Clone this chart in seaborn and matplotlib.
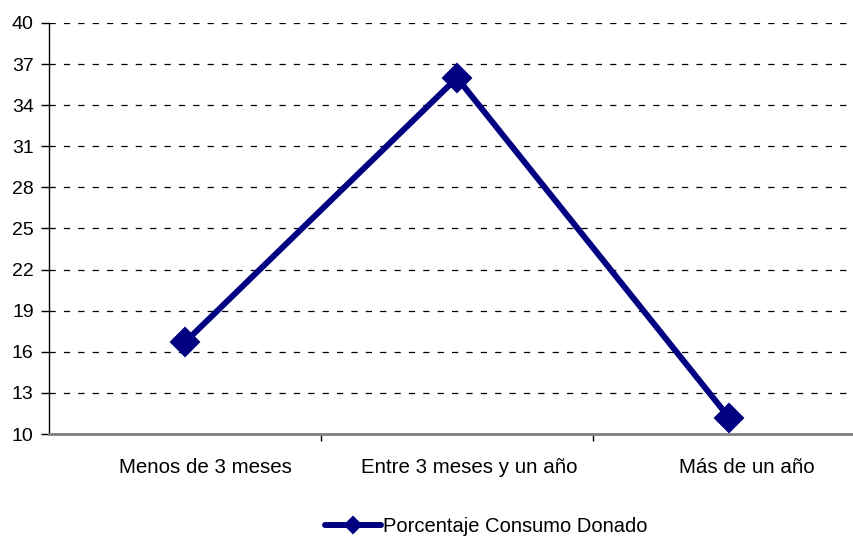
import matplotlib
matplotlib.use("Agg")
import matplotlib.pyplot as plt
import matplotlib.transforms as mtransforms
import seaborn as sns
import pandas as pd
from matplotlib.ticker import FixedLocator

categorias = ["Menos de 3 meses", "Entre 3 meses y un año", "Más de un año"]
porcentaje = [16.7, 36.0, 11.2]
serie = "Porcentaje Consumo Donado"
y_ticks = [10, 13, 16, 19, 22, 25, 28, 31, 34, 37, 40]

sns.set_theme(style="white")
plt.rcParams["font.family"] = ["Liberation Sans", "DejaVu Sans"]
plt.rcParams.update({"text.color": "black", "xtick.color": "black",
                     "ytick.color": "black", "axes.labelcolor": "black"})

df = pd.DataFrame({"cat": categorias, "valor": porcentaje, "serie": serie})
df["x"] = range(len(categorias))

fig = plt.figure(figsize=(8.54, 5.37), dpi=100)
ax = fig.add_axes([0.0574, 0.1918, 0.9555, 0.7654])

sns.lineplot(data=df, x="x", y="valor", hue="serie", palette=["#000080"],
             marker="D", markersize=14, markeredgewidth=1.5, markeredgecolor="#000080",
             linewidth=4.3, ax=ax, legend=True)

ax.set_xlim(-0.5, 2.5)
ax.set_ylim(10, 40)
ax.set_yticks(y_ticks)
ax.set_yticklabels([str(t) for t in y_ticks], fontsize=14)
ax.set_xticks(range(len(categorias)))
ax.set_xticklabels(categorias, fontsize=14.8)
ax.tick_params(axis="x", which="major", length=0, pad=17)
ax.xaxis.set_minor_locator(FixedLocator([0.5, 1.5]))
ax.tick_params(axis="x", which="minor", direction="out", length=5, width=1, color="black", bottom=True)
ax.tick_params(axis="y", direction="out", length=6, width=1, color="black", left=True, pad=5)
ax.set_xlabel("")
ax.set_ylabel("")

# category labels sit slightly right of their points
for lbl, dx in zip(ax.get_xticklabels(), [20, 12, 18]):
    lbl.set_transform(lbl.get_transform()
                      + mtransforms.ScaledTranslation(dx / 100, 0, fig.dpi_scale_trans))

for t in y_ticks[1:]:
    ax.axhline(t, color="black", linestyle=(0, (5, 6.5)), linewidth=0.9, zorder=0)

for s in ["top", "right"]:
    ax.spines[s].set_visible(False)
ax.spines["left"].set_color("black")
ax.spines["left"].set_linewidth(1)
ax.spines["bottom"].set_color("#808080")
ax.spines["bottom"].set_linewidth(2)

handles, labels = ax.get_legend_handles_labels()
ax.legend(handles, labels, loc="center", bbox_to_anchor=(486 / 854, 1 - 527 / 537),
          bbox_transform=fig.transFigure, frameon=False, fontsize=14.5,
          handlelength=2.8, handletextpad=0.1, markerscale=0.55)

fig.savefig("out.png", dpi=100)
